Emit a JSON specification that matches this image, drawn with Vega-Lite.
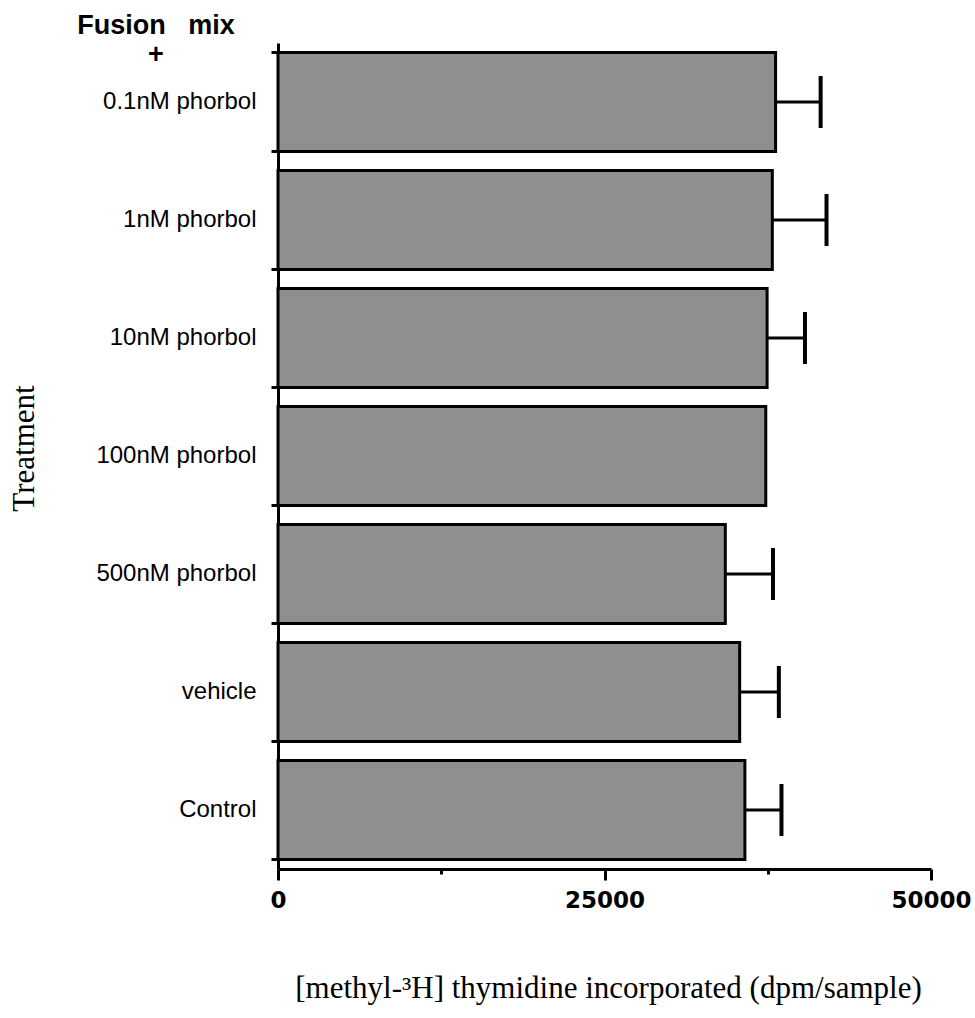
{
  "$schema": "https://vega.github.io/schema/vega-lite/v6.json",
  "autosize": "none",
  "width": 653,
  "height": 826,
  "padding": {"left": 278, "top": 43, "right": 44, "bottom": 149},
  "background": "white",
  "title": {
    "text": ["Fusion\u00a0\u00a0\u00a0mix", "+"],
    "frame": "group",
    "anchor": "start",
    "align": "center",
    "baseline": "top",
    "dx": -122,
    "offset": -38,
    "font": "Liberation Sans",
    "fontWeight": "bold",
    "fontSize": 27,
    "lineHeight": 29,
    "color": "black"
  },
  "data": {
    "values": [
      {"treatment": "0.1nM phorbol", "mean": 38100, "upper": 41550},
      {"treatment": "1nM phorbol", "mean": 37850, "upper": 42000},
      {"treatment": "10nM phorbol", "mean": 37450, "upper": 40350},
      {"treatment": "100nM phorbol", "mean": 37350, "upper": null},
      {"treatment": "500nM phorbol", "mean": 34250, "upper": 37900},
      {"treatment": "vehicle", "mean": 35350, "upper": 38350},
      {"treatment": "Control", "mean": 35750, "upper": 38550}
    ]
  },
  "encoding": {
    "y": {
      "field": "treatment",
      "type": "nominal",
      "sort": null,
      "scale": {"paddingInner": 0.16, "paddingOuter": 0.08},
      "axis": {
        "title": "Treatment",
        "titleFont": "Liberation Serif",
        "titleFontSize": 31,
        "titleFontWeight": "normal",
        "titleColor": "black",
        "titleAngle": -90,
        "titleAlign": "center",
        "titleBaseline": "alphabetic",
        "titleX": -245,
        "titleY": 405,
        "labelFont": "Liberation Sans",
        "labelFontSize": 24,
        "labelColor": "black",
        "labelPadding": 15,
        "labelLimit": 300,
        "domainColor": "black",
        "domainWidth": 3,
        "tickColor": "black",
        "tickWidth": 3,
        "tickSize": 7,
        "bandPosition": 1,
        "tickExtra": true
      }
    }
  },
  "layer": [
    {
      "mark": {"type": "bar", "fill": "#8f8f8f", "stroke": "black", "strokeWidth": 3},
      "encoding": {
        "x": {
          "field": "mean",
          "type": "quantitative",
          "scale": {"domain": [0, 50000], "nice": false},
          "axis": {
            "title": "[methyl-\u00b3H] thymidine incorporated (dpm/sample)",
            "titleFont": "Liberation Serif",
            "titleFontSize": 31,
            "titleFontWeight": "normal",
            "titleColor": "black",
            "titleAlign": "center",
            "titleBaseline": "alphabetic",
            "titleX": 330,
            "titleY": 128,
            "values": [0, 12500, 25000, 37500, 50000],
            "format": "d",
            "labelExpr": "datum.value % 25000 === 0 ? datum.label : ''",
            "labelFont": "DejaVu Sans",
            "labelFontSize": 23,
            "labelFontWeight": "bold",
            "labelColor": "black",
            "labelPadding": 9,
            "labelFlush": false,
            "grid": false,
            "domainColor": "black",
            "domainWidth": 3,
            "tickColor": "black",
            "tickWidth": 3,
            "tickSize": {"condition": {"test": "datum.value % 25000 !== 0", "value": 5}, "value": 11}
          }
        }
      }
    },
    {
      "mark": {"type": "rule", "color": "black", "strokeWidth": 3},
      "encoding": {
        "x": {"field": "mean", "type": "quantitative"},
        "x2": {"field": "upper"}
      }
    },
    {
      "mark": {"type": "tick", "color": "black", "opacity": 1, "thickness": 4, "size": 52, "orient": "vertical"},
      "encoding": {
        "x": {"field": "upper", "type": "quantitative"}
      }
    }
  ],
  "config": {
    "view": {"stroke": null}
  }
}
